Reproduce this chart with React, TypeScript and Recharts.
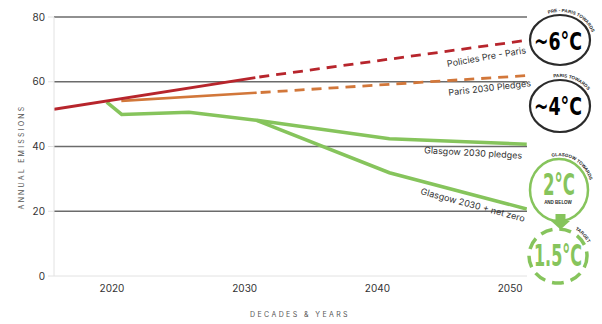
import React from 'react';
import { LineChart, Line, XAxis, YAxis, ReferenceLine } from 'recharts';

const yearTicks = [2020, 2030, 2040, 2050];
const emissionTicks = [0, 20, 40, 60, 80];
const gridValues = [20, 40, 60, 80];

const policiesPreParisActual = [
  { year: 2015.63, value: 51.5 },
  { year: 2030.8, value: 61.3 },
];
const policiesPreParisProjected = [
  { year: 2030.8, value: 61.3 },
  { year: 2051.25, value: 72.8 },
];
const parisPledgesActual = [
  { year: 2020.7, value: 54.1 },
  { year: 2030.9, value: 56.6 },
];
const parisPledgesProjected = [
  { year: 2030.9, value: 56.6 },
  { year: 2051.25, value: 61.9 },
];
const glasgowPledges = [
  { year: 2019.6, value: 53.7 },
  { year: 2020.73, value: 49.9 },
  { year: 2025.8, value: 50.6 },
  { year: 2030.9, value: 48.1 },
  { year: 2040.9, value: 42.4 },
  { year: 2051.25, value: 40.7 },
];
const glasgowNetZero = [
  { year: 2030.9, value: 48.1 },
  { year: 2040.9, value: 31.9 },
  { year: 2051.25, value: 20.7 },
];

const RED = '#b7252c';
const ORANGE = '#d2773a';
const GREEN = '#86c45c';
const DARK = '#2b2b2b';

function arcPath(cx: number, cy: number, rx: number, ry: number, a0: number, a1: number) {
  const r = Math.PI / 180;
  const x0 = cx + rx * Math.cos(a0 * r);
  const y0 = cy + ry * Math.sin(a0 * r);
  const x1 = cx + rx * Math.cos(a1 * r);
  const y1 = cy + ry * Math.sin(a1 * r);
  const large = Math.abs(a1 - a0) > 180 ? 1 : 0;
  return `M ${x0} ${y0} A ${rx} ${ry} 0 ${large} 1 ${x1} ${y1}`;
}

const lineLabelStyle: React.CSSProperties = { fontFamily: 'Inter, sans-serif', fontSize: 9, fill: '#333' };
const smallFont = "'Liberation Sans', Arial, sans-serif";
const bigFont = "'DejaVu Sans Condensed', 'DejaVu Sans', sans-serif";
const arcStyle: React.CSSProperties = { fontFamily: smallFont, fontSize: 4.6, fontWeight: 700, fill: DARK };

function Overlay() {
  return (
    <svg width={602} height={324} style={{ position: 'absolute', left: 0, top: 0, pointerEvents: 'none' }}>
      <defs>
        <path id="arc1" d={arcPath(560, 40, 33, 28, -118, 0)} />
        <path id="arc2" d={arcPath(560, 106, 33, 29, -112, 0)} />
        <path id="arc3" d={arcPath(559, 190, 32, 34, -110, -5)} />
        <path id="arc4" d={arcPath(558, 256, 33, 31, -62, -10)} />
      </defs>
      <text
        transform="translate(24,157) rotate(-90)"
        textAnchor="middle"
        style={{ fontFamily: 'Inter, sans-serif', fontSize: 7, fill: '#555', letterSpacing: 2.2 }}
      >
        ANNUAL EMISSIONS
      </text>
      <text
        x={300}
        y={317}
        textAnchor="middle"
        style={{ fontFamily: 'Inter, sans-serif', fontSize: 7, fill: '#555', letterSpacing: 2.4 }}
      >
        DECADES &amp; YEARS
      </text>

      <text transform="translate(487,60) rotate(-10)" textAnchor="middle" style={lineLabelStyle}>Policies Pre - Paris</text>
      <text transform="translate(490,91) rotate(-6.5)" textAnchor="middle" style={lineLabelStyle}>Paris 2030 Pledges</text>
      <text transform="translate(473,156) rotate(3.3)" textAnchor="middle" style={lineLabelStyle}>Glasgow 2030 pledges</text>
      <text transform="translate(472,208) rotate(15)" textAnchor="middle" style={lineLabelStyle}>Glasgow 2030 + net zero</text>

      {/* badge 1 */}
      <ellipse cx={560} cy={40} rx={30} ry={25} fill="#fff" stroke={DARK} strokeWidth={2.2} />
      <text style={arcStyle}>
        <textPath href="#arc1" startOffset="4">PRE - PARIS TOWARDS</textPath>
      </text>
      <text x={558} y={50} textAnchor="middle" textLength={48} lengthAdjust="spacingAndGlyphs"
        style={{ fontFamily: bigFont, fontSize: 25, fontWeight: 700, fill: '#000' }}>~6°C</text>

      {/* badge 2 */}
      <ellipse cx={560} cy={106} rx={30} ry={26} fill="#fff" stroke={DARK} strokeWidth={2.2} />
      <text style={arcStyle}>
        <textPath href="#arc2" startOffset="6">PARIS TOWARDS</textPath>
      </text>
      <text x={558} y={115} textAnchor="middle" textLength={48} lengthAdjust="spacingAndGlyphs"
        style={{ fontFamily: bigFont, fontSize: 25, fontWeight: 700, fill: '#000' }}>~4°C</text>

      {/* badge 3 */}
      <ellipse cx={559} cy={190} rx={29} ry={31} fill="#fff" stroke={GREEN} strokeWidth={2.5} />
      <text style={arcStyle}>
        <textPath href="#arc3" startOffset="4">GLASGOW TOWARDS</textPath>
      </text>
      <text x={559} y={195} textAnchor="middle" textLength={32} lengthAdjust="spacingAndGlyphs"
        style={{ fontFamily: bigFont, fontSize: 30, fontWeight: 700, fill: GREEN }}>2°C</text>
      <text x={558} y={203.5} textAnchor="middle"
        style={{ fontFamily: smallFont, fontSize: 4.5, fontWeight: 700, fill: DARK }}>AND BELOW</text>

      {/* arrow */}
      <rect x={555.5} y={214} width={10} height={8} fill={GREEN} />
      <polygon points="551,221 570,221 560.5,229.5" fill={GREEN} />

      {/* badge 4 */}
      <ellipse cx={558} cy={256} rx={29} ry={27} fill="none" stroke={GREEN} strokeWidth={3.5} strokeDasharray="12 7" />
      <text style={arcStyle}>
        <textPath href="#arc4" startOffset="2">TARGET</textPath>
      </text>
      <text x={558} y={266} textAnchor="middle" textLength={48} lengthAdjust="spacingAndGlyphs"
        style={{ fontFamily: bigFont, fontSize: 30, fontWeight: 700, fill: GREEN }}>1.5°C</text>
    </svg>
  );
}

export default function App() {
  return (
    <div style={{ position: 'absolute', left: 0, top: 0, width: 602, height: 324, background: '#fff' }}>
      <LineChart width={602} height={324} margin={{ top: 17, right: 75, bottom: 18, left: 0 }}>
        <XAxis
          type="number"
          dataKey="year"
          domain={[2015.63, 2051.27]}
          allowDataOverflow
          ticks={yearTicks}
          tickLine={false}
          tickSize={0}
          tickMargin={9}
          height={30}
          axisLine={{ stroke: '#e2e2e2' }}
          tick={{ fontSize: 10, fill: '#333', fontFamily: 'Inter, sans-serif' }}
        />
        <YAxis
          type="number"
          dataKey="value"
          domain={[0, 80]}
          ticks={emissionTicks}
          width={54}
          tickSize={6}
          tickMargin={3}
          axisLine={{ stroke: '#e2e2e2' }}
          tickLine={{ stroke: '#e2e2e2' }}
          tick={{ fontSize: 10, fill: '#333', fontFamily: 'Inter, sans-serif' }}
        />
        {gridValues.map((v) => (
          <ReferenceLine key={v} y={v} stroke="#6b6b6b" strokeWidth={1.3} />
        ))}
        <Line data={glasgowNetZero} dataKey="value" stroke={GREEN} strokeWidth={3.5} dot={false} isAnimationActive={false} />
        <Line data={glasgowPledges} dataKey="value" stroke={GREEN} strokeWidth={3.5} dot={false} isAnimationActive={false} />
        <Line data={parisPledgesActual} dataKey="value" stroke={ORANGE} strokeWidth={2.6} dot={false} isAnimationActive={false} />
        <Line data={parisPledgesProjected} dataKey="value" stroke={ORANGE} strokeWidth={2.8} strokeDasharray="10 7" strokeDashoffset={-4} dot={false} isAnimationActive={false} />
        <Line data={policiesPreParisActual} dataKey="value" stroke={RED} strokeWidth={2.8} dot={false} isAnimationActive={false} />
        <Line data={policiesPreParisProjected} dataKey="value" stroke={RED} strokeWidth={2.8} strokeDasharray="10 7" strokeDashoffset={-4} dot={false} isAnimationActive={false} />
      </LineChart>
      <Overlay />
    </div>
  );
}
